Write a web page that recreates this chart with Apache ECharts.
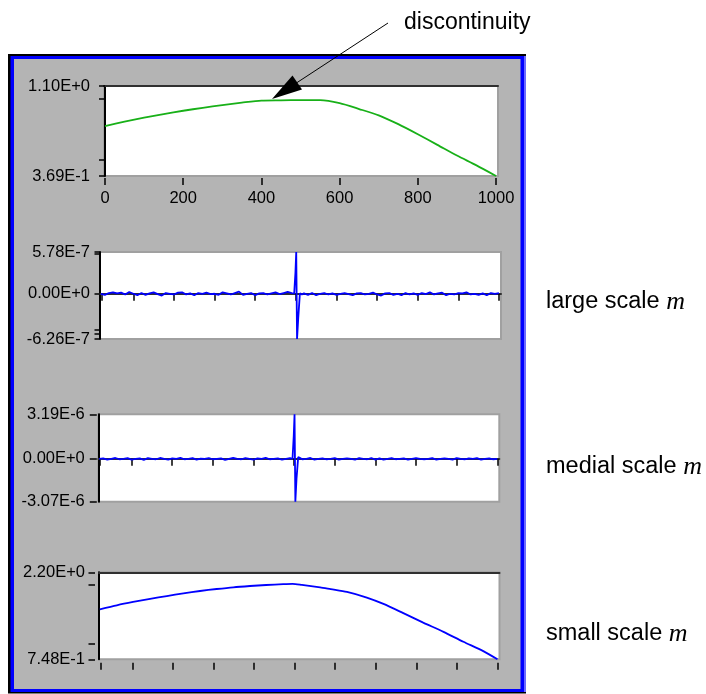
<!DOCTYPE html>
<html><head><meta charset="utf-8">
<script src="https://cdn.jsdelivr.net/npm/echarts@6/dist/echarts.min.js"></script>
<style>html,body{margin:0;padding:0;background:#fff}#c{width:706px;height:694px}</style>
</head><body><div id="c"></div>
<script>
// ---------- data ----------
const topX = [0,50,100,150,200,250,300,350,400,450,500,550,600,650,700,750,800,850,900,950,1000];
const topY = [0.775,0.810,0.843,0.872,0.899,0.923,0.945,0.965,0.982,0.984,0.986,0.985,0.960,0.913,0.862,0.790,0.708,0.622,0.535,0.455,0.369];

const scaleX = [20,30,40,50,60,70,80,90,100,110,120,130,140,150,160,170,180,190,200,210,220,230,240,250,260,270,280,290,300,310,320,330,340,350,360,370,380,390,400,410,420,430,440,450,460,470,480,490,
  496,499,501,503,506,510,515,
  520,530,540,550,560,570,580,590,600,610,620,630,640,650,660,670,680,690,700,710,720,730,740,750,760,770,780,790,800,810,820,830,840,850,860,870,880,890,900,910,920,930,940,950,960,970,980,990,1000];
// values in units of 1e-8
const largeE8 = [0,-1.5,1,2,0.5,1.5,-1,2.5,0,-2,1,-1.5,0.5,2,-0.5,-2.5,1,0,-1,1.5,2,-1,0.5,-2,1,0,1.5,-0.5,0,-1.5,2,0.5,-1,1,3,-1.5,0,1,-2,0.5,1,-1,0.5,2,-0.5,1,2.5,1,
  0.5,29,57.8,-62.6,-33,0.5,-1,
  0.5,-1.5,1,-2,0,1,-1,0.5,-1.5,0,1,-0.5,-2,0.5,1,-1,0,1.5,-1,-2.5,0.5,1,-1.5,0,-2,1,-1,0.5,-1.5,1,-0.5,2,-1,0.5,1.5,-2,0,-1,1,0.5,2,-1,0,-1.5,0.5,-2,1,0,1];
const medialE8 = [0,3,-5,0,6,-3,0,5,-6,0,3,-7,5,0,-3,6,0,-5,3,0,7,-3,0,5,-6,2,0,5,-3,0,3,-7,0,6,0,-3,5,0,-6,3,0,7,-3,0,3,-5,0,5,
  0,162,319,-307,-136,12,5,
  -3,0,6,-5,0,3,-3,0,5,-6,0,3,0,-5,5,0,-3,6,-5,3,-6,0,5,-3,0,3,-5,0,5,0,-3,0,5,-5,0,3,0,-5,5,0,-3,3,0,5,-5,0,3,-3,0];

const smallX = [20,62,102,144,185,226,267,308,349,390,430,472,495,518,563,589,629,678,719,768,817,867,916,965,1000];
const smallY = [1.583,1.650,1.705,1.757,1.804,1.849,1.888,1.921,1.950,1.971,1.988,2.003,2.008,1.990,1.948,1.918,1.872,1.778,1.672,1.518,1.360,1.205,1.040,0.885,0.748];

const topXTicks = [0,200,400,600,800,1000];
const lowerXTicks = [22,100,200,300,400,500,600,700,800,900,1000];

const yLabelVals = [[0.369,1.10],[-6.26e-7,0,5.78e-7],[-3.07e-6,0,3.19e-6],[0.748,2.20]];
const yLabelText = [['3.69E-1','1.10E+0'],['-6.26E-7','0.00E+0','5.78E-7'],['-3.07E-6','0.00E+0','3.19E-6'],['7.48E-1','2.20E+0']];
const yTickVals = [[0.369,0.5,1.0,1.10],[-6.26e-7,-5.5e-7,-5.0e-7,0,5.5e-7,5.78e-7],[-3.07e-6,0,3.19e-6],[0.748,1.0,2.0,2.20]];
const rightLabels = ['large scale ','medial scale ','small scale '];

// ---------- layout ----------
const panels = [
  {grid:[104,86,394,90],   xr:[-2.5,1005], yr:[0.369,1.10],      xTicks:topXTicks, xLabels:true, xOff:2, yOff:4, yLen:6, yMargin:10, smooth:0.25},
  {grid:[100,252,401,87],  xr:[18,1005],   yr:[-6.26e-7,5.78e-7], xTicks:lowerXTicks, xLabels:false, xOff:4, yOff:0.5, yLen:5, yMargin:9.5, smooth:false},
  {grid:[98.3,414.3,401,87.4], xr:[18,1005], yr:[-3.07e-6,3.19e-6], xTicks:lowerXTicks, xLabels:false, xOff:3, yOff:1.5, yLen:7, yMargin:12, smooth:false},
  {grid:[99,572.3,400.5,87], xr:[18,1005], yr:[0.748,2.20],       xTicks:lowerXTicks, xLabels:false, xOff:3.5, yOff:4, yLen:6.5, yMargin:10, smooth:0.25}
];
const seriesData = [
  topX.map((x,i)=>[x,topY[i]]),
  scaleX.map((x,i)=>[x,largeE8[i]*1e-8]),
  scaleX.map((x,i)=>[x,medialE8[i]*1e-8]),
  smallX.map((x,i)=>[x,smallY[i]])
];
const colors = ['#18b018','#0000ff','#0000ff','#0000ff'];

const FONT = 'Liberation Sans, Arial, sans-serif';
const grid=[], xAxis=[], yAxis=[], series=[];
panels.forEach((p,i)=>{
  grid.push({left:p.grid[0], top:p.grid[1], width:p.grid[2], height:p.grid[3], show:true,
    backgroundColor:'#ffffff', borderColor:'#a0a0a0', borderWidth:2, containLabel:false, outerBoundsMode:'none'});
  xAxis.push({gridIndex:i, type:'value', min:p.xr[0], max:p.xr[1], position:'bottom', offset:p.xOff,
    axisLine:{show:false}, splitLine:{show:false},
    axisTick:{show:true, customValues:p.xTicks, length:7, lineStyle:{color:'#000', width:1.5}},
    axisLabel: p.xLabels ? {show:true, customValues:p.xTicks, formatter:v=>String(Math.round(v)), margin:12, fontSize:16.5, color:'#000', fontFamily:FONT} : {show:false}
  });
  xAxis.push({gridIndex:i, type:'value', min:p.xr[0], max:p.xr[1], position:'top', offset:0,
    axisLine:{show:true, lineStyle:{color:'#303030', width:2}}, axisTick:{show:false}, axisLabel:{show:false}, splitLine:{show:false}});
  const lv = yLabelVals[i], lt = yLabelText[i];
  yAxis.push({gridIndex:i, type:'value', min:p.yr[0], max:p.yr[1], position:'left', offset:p.yOff,
    axisLine:{show:false}, splitLine:{show:false},
    axisTick:{show:true, customValues:yTickVals[i], length:p.yLen, lineStyle:{color:'#000', width:1.5}},
    axisLabel:{show:true, customValues:lv, margin:p.yMargin, fontSize:16.5, color:'#000', fontFamily:FONT,
      formatter:v=>{ let k=0,b=Infinity; lv.forEach((t,j)=>{const d=Math.abs(t-v); if(d<b){b=d;k=j;}}); return lt[k]; }}
  });
  yAxis.push({gridIndex:i, type:'value', min:p.yr[0], max:p.yr[1], position:'left', offset:0,
    axisLine:{show:true, lineStyle:{color:'#000', width:2}}, axisTick:{show:false}, axisLabel:{show:false}, splitLine:{show:false}});
  series.push({type:'line', xAxisIndex:2*i, yAxisIndex:2*i, data:seriesData[i], showSymbol:false, symbol:'none',
    smooth:p.smooth,
    lineStyle:{color:colors[i], width:1.8}, itemStyle:{color:colors[i]}, z:5});
});

const graphic = [
  {type:'rect', z:-10, shape:{x:8,y:54,width:518,height:639}, style:{fill:'#0000ff'}},
  {type:'rect', z:-9, shape:{x:524,y:54,width:2,height:639}, style:{fill:'#6a6aff'}},
  {type:'rect', z:-9, shape:{x:8,y:54,width:518,height:2}, style:{fill:'#000'}},
  {type:'rect', z:-9, shape:{x:8,y:54,width:2.5,height:639}, style:{fill:'#000'}},
  {type:'rect', z:-9, shape:{x:8,y:692,width:518,height:1.5}, style:{fill:'#000'}},
  {type:'rect', z:-8, shape:{x:14,y:59,width:506.5,height:630}, style:{fill:'#b4b4b4'}},
  {type:'line', z:50, shape:{x1:388,y1:23,x2:297,y2:82.6}, style:{stroke:'#000', lineWidth:1}},
  {type:'polygon', z:50, shape:{points:[[272,99],[302,89.5],[292.5,75.5]]}, style:{fill:'#000'}},
  {type:'text', z:50, x:404, y:23, style:{text:'discontinuity', fontSize:23, fontFamily:FONT, fill:'#000', verticalAlign:'middle'}}
];
const labelY = [302, 467, 634];
rightLabels.forEach((t,i)=>{
  graphic.push({type:'text', z:50, x:546, y:labelY[i], style:{text:'{a|'+t+'}{m|m}', verticalAlign:'middle',
    rich:{a:{fontSize:23.5, fontFamily:FONT, fill:'#000'}, m:{fontSize:26, fontFamily:'Liberation Serif, Times New Roman, serif', fontStyle:'italic', fill:'#000'}}}});
});

const chart = echarts.init(document.getElementById('c'), null, {renderer:'canvas'});
chart.setOption({animation:false, backgroundColor:'#ffffff', grid, xAxis, yAxis, series, graphic});
</script></body></html>
